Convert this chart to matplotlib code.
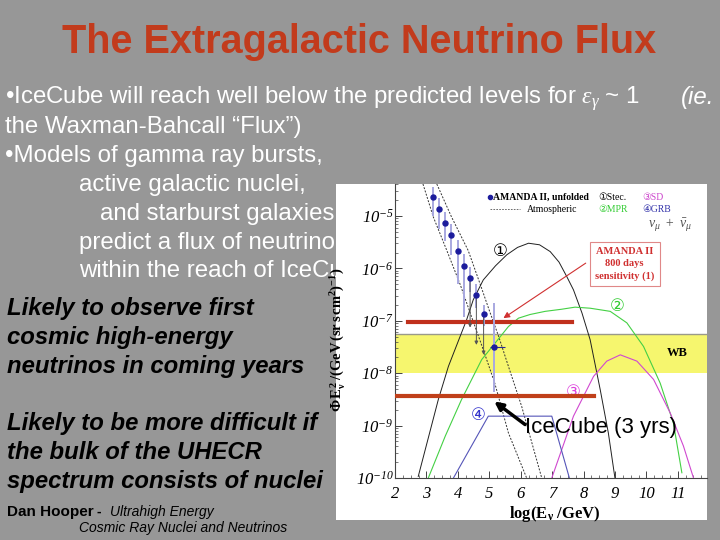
import numpy as np
import matplotlib
matplotlib.use("Agg")
import matplotlib.pyplot as plt
from matplotlib.ticker import FixedLocator, FuncFormatter, MultipleLocator, LogLocator, NullFormatter
from matplotlib.patches import Rectangle

plt.rcParams['mathtext.fontset'] = 'custom'
plt.rcParams['mathtext.rm'] = 'Liberation Serif:italic'
plt.rcParams['mathtext.it'] = 'Liberation Serif:italic'
plt.rcParams['mathtext.bf'] = 'Liberation Serif:bold'

# ---------------- data (log10 of flux) ----------------
stecker_x = [2.74, 3.38, 3.70, 4.28, 4.49, 4.81, 5.20, 5.56, 5.90, 6.25, 6.60, 6.94, 7.22, 7.47, 7.68, 7.95, 8.21, 8.53, 8.79, 9.00]
stecker_y = [-9.97, -8.50, -7.87, -6.98, -6.60, -6.22, -5.95, -5.74, -5.60, -5.52, -5.55, -5.68, -5.88, -6.16, -6.41, -6.85, -7.36, -8.31, -9.14, -10.0]

mpr_x = [3.06, 3.60, 4.12, 4.76, 5.18, 5.61, 5.93, 6.30, 6.78, 7.30, 7.73, 8.21, 8.85, 9.38, 9.91, 10.44, 10.86, 11.13]
mpr_y = [-10.0, -9.20, -8.50, -7.74, -7.43, -7.11, -6.95, -6.88, -6.82, -6.78, -6.74, -6.76, -6.82, -7.04, -7.49, -8.19, -8.95, -9.90]

sd_x = [6.99, 7.68, 8.32, 8.74, 9.17, 9.70, 10.23, 10.76, 11.18, 11.50]
sd_y = [-10.0, -8.82, -8.06, -7.77, -7.65, -7.77, -8.12, -8.76, -9.39, -10.0]

grb_x = [3.86, 4.97, 6.99, 7.55]
grb_y = [-10.0, -8.82, -8.82, -10.0]

atm_lo_x = [2.89, 3.22, 3.65, 4.07, 4.44, 4.82, 5.18, 5.61, 6.19]
atm_lo_y = [-4.39, -5.02, -5.66, -6.30, -6.93, -7.57, -8.20, -9.14, -10.0]
atm_hi_x = [3.33, 3.80, 4.33, 4.71, 5.00, 5.30, 5.61, 6.03, 6.67]
atm_hi_y = [-4.39, -5.02, -5.66, -6.30, -6.80, -7.30, -7.87, -8.63, -10.0]

amanda_x = [3.20, 3.40, 3.60, 3.79, 4.00, 4.20, 4.39, 4.59, 4.82, 5.15]
amanda_y = [-4.64, -4.86, -5.13, -5.37, -5.67, -5.95, -6.19, -6.50, -6.87, -7.50]
amanda_hi = [-4.45, -4.65, -4.92, -5.15, -5.45, -5.72, -5.98, -6.30, -6.70, -6.66]
amanda_lo = [-5.00, -5.25, -5.47, -5.75, -6.30, -6.92, -6.45, -6.75, -7.10, -8.35]
limit_idx = [6, 7, 8]
limit_to = [-7.13, -7.46, -7.65]

amanda_sens = -7.02       # AMANDA II 800 days sensitivity
amanda_sens_x = [2.42, 7.63]
icecube_sens = -8.43      # IceCube 3 yrs
icecube_sens_x = [2.0, 8.32]
wb_band = [-8.0, -7.25]   # Waxman-Bahcall band

xticks = [2, 3, 4, 5, 6, 7, 8, 9, 10, 11]
yticks = [-10, -9, -8, -7, -6, -5]

title = "The Extragalactic Neutrino Flux"
# the last two lines run under the picture panel in the slide; only the visible part is kept
white_lines = [
    (5, 104, "\u2022IceCube will reach well below the predicted levels for $\\varepsilon_{\\gamma}$ ~ 1"),
    (5, 133, "the Waxman-Bahcall \u201cFlux\u201d)"),
    (5, 162, "\u2022Models of gamma ray bursts,"),
    (79, 191, "active galactic nuclei,"),
    (100, 220, "and starburst galaxies"),
    (79, 249, "predict a flux of neutrino"),
    (79, 277, "within the reach of IceCu"),
]
black_lines = [
    (7, 315, "Likely to observe first"),
    (7, 344, "cosmic high-energy"),
    (7, 373, "neutrinos in coming years"),
    (7, 430, "Likely to be more difficult if"),
    (7, 459, "the bulk of the UHECR"),
    (7, 488, "spectrum consists of nuclei"),
]

# ---------------- figure ----------------
W, H = 720, 540
fig = plt.figure(figsize=(7.2, 5.4), dpi=100)
fig.patch.set_facecolor('#979797')

def fx(px):
    return px / W

def fy(py):
    return 1 - py / H

clip_rect = Rectangle((0, 0), fx(336), 1, transform=fig.transFigure, visible=False)
fig.add_artist(clip_rect)

sans = 'Liberation Sans'
fig.text(fx(359), fy(53), title, ha='center', va='baseline', fontsize=28.5,
         fontweight='bold', color='#c23b1c', family=sans, zorder=3)
for x, y, s in white_lines:
    t = fig.text(fx(x), fy(y), s, ha='left', va='baseline', fontsize=17.3,
                 color='white', family=sans, zorder=3)
    if y > 184:
        t.set_clip_path(clip_rect)
fig.text(fx(681), fy(104), "(ie.", ha='left', va='baseline', fontsize=17.3,
         color='white', family=sans, style='italic', zorder=3)
for x, y, s in black_lines:
    fig.text(fx(x), fy(y), s, ha='left', va='baseline', fontsize=17.2,
             color='black', family=sans, style='italic', fontweight='bold', zorder=3)
fig.text(fx(7), fy(516), "Dan Hooper", ha='left', va='baseline', fontsize=11,
         fontweight='bold', color='black', family=sans, zorder=3)
fig.text(fx(97), fy(516), "- ", ha='left', va='baseline', fontsize=10,
         fontweight='bold', color='black', family=sans, zorder=3)
fig.text(fx(110), fy(516), "Ultrahigh Energy", ha='left', va='baseline', fontsize=10,
         style='italic', color='black', family=sans, zorder=3)
fig.text(fx(79), fy(532), "Cosmic Ray Nuclei and Neutrinos", ha='left', va='baseline',
         fontsize=10, style='italic', color='black', family=sans, zorder=3)

# white "image" panel
ax_img = fig.add_axes([fx(336), fy(520), fx(707 - 336), (520 - 184) / H], zorder=5)
ax_img.set_facecolor('white')
ax_img.set_xticks([]); ax_img.set_yticks([])
for s in ax_img.spines.values():
    s.set_visible(False)

ax = fig.add_axes([fx(395), fy(478), fx(707 - 395), (478 - 184) / H], zorder=6)
ax.patch.set_alpha(0)
ax.set_yscale('log')
ax.set_xlim(2, 11.93)
ax.set_ylim(1e-10, 10 ** -4.39)

def L(v):
    return [10 ** t for t in v]

ax.axhspan(10 ** wb_band[0], 10 ** wb_band[1], color='#f6f66e', lw=0, zorder=1)
ax.axhline(10 ** wb_band[1], color='#9a9a8a', lw=1.0, zorder=1.5)

ax.plot(atm_lo_x, L(atm_lo_y), color='#333333', lw=0.7, ls=(0, (2, 1.5)), zorder=2)
ax.plot(atm_hi_x, L(atm_hi_y), color='#333333', lw=0.7, ls=(0, (2, 1.5)), zorder=2)

ax.plot(stecker_x, L(stecker_y), color='#202020', lw=0.7, zorder=3)
ax.plot(mpr_x, L(mpr_y), color='#44d044', lw=0.8, zorder=3)
ax.plot(sd_x, L(sd_y), color='#d048d0', lw=0.8, zorder=3)
ax.plot(grb_x, L(grb_y), color='#5555b8', lw=0.8, zorder=3)

ax.plot(amanda_sens_x, [10 ** amanda_sens] * 2, color='#c0301c', lw=3.0, zorder=4)
ax.plot(icecube_sens_x, [10 ** icecube_sens] * 2, color='#c0401a', lw=3.0, zorder=4)

# AMANDA unfolded points
ay = np.array(L(amanda_y))
lo = ay - np.array(L(amanda_lo))
hi = np.array(L(amanda_hi)) - ay
ax.errorbar(amanda_x, ay, yerr=[lo, hi], fmt='none', ecolor='#a8a8e0', elinewidth=1.4, zorder=4)
ax.errorbar([amanda_x[-1]], [ay[-1]], xerr=[[0.12], [0.35]], fmt='none', ecolor='#2a2a90', elinewidth=0.8, zorder=5)
ax.plot(amanda_x, ay, 'o', color='#1c1c9c', ms=3.6, zorder=6)
for i, t in zip(limit_idx, limit_to):
    ax.annotate('', xy=(amanda_x[i], 10 ** t), xytext=(amanda_x[i], ay[i]),
                arrowprops=dict(arrowstyle='-|>', color='#555555', lw=0.7,
                                mutation_scale=5, shrinkA=0, shrinkB=0), zorder=5)

# ticks
ax.xaxis.set_major_locator(FixedLocator(xticks))
ax.xaxis.set_minor_locator(MultipleLocator(0.25))
ax.yaxis.set_major_locator(FixedLocator([10.0 ** t for t in yticks]))
ax.yaxis.set_minor_locator(LogLocator(base=10, subs=np.arange(2, 10)))
ax.yaxis.set_minor_formatter(NullFormatter())
ax.yaxis.set_major_formatter(FuncFormatter(lambda v, p: r'$10^{%d}$' % round(np.log10(v))))
ax.xaxis.set_major_formatter(FuncFormatter(lambda v, p: '%d' % v))
ax.tick_params(axis='both', which='both', direction='in', color='#444444')
ax.tick_params(axis='both', which='major', length=5, width=0.7, labelsize=12)
ax.tick_params(axis='both', which='minor', length=2.5, width=0.5)
ax.tick_params(axis='y', pad=1)
ax.tick_params(axis='x', pad=6)
for lab in ax.get_xticklabels():
    lab.set_family('Liberation Serif'); lab.set_style('italic')
ax.spines['top'].set_visible(False)
ax.spines['right'].set_visible(False)
ax.spines['left'].set_color('#444444')
ax.spines['bottom'].set_color('#444444')

ax.set_ylabel(r'$\mathbf{\Phi\,E_{\nu}^{\,2}\,/(GeV\,(sr\,s\,cm^{2})^{-1})}$', fontsize=10.5)
ax.yaxis.set_label_coords(-0.155, 0.47)
ax.set_xlabel(r'$\mathbf{log(E_{\nu}\ /GeV)}$', fontsize=12)
ax.xaxis.set_label_coords(0.513, -0.09)

serif = ['Liberation Serif', 'DejaVu Sans']
# legend (drawn as in the figure)
ax.plot([5.03], [10 ** -4.64], 'o', color='#1c1c9c', ms=3, zorder=6)
ax.text(5.13, 10 ** -4.64, 'AMANDA II, unfolded', fontsize=7, fontweight='bold',
        family=serif, va='center', ha='left')
ax.plot([5.03, 5.98], [10 ** -4.87] * 2, color='#555555', lw=0.6, ls=(0, (2, 1.5)))
ax.text(6.19, 10 ** -4.87, 'Atmospheric', fontsize=7, family=serif, va='center', ha='left')
ax.text(8.47, 10 ** -4.64, '\u2460Stec.', fontsize=7, family=serif, va='center', ha='left', color='black')
ax.text(8.47, 10 ** -4.87, '\u2461MPR', fontsize=7, family=serif, va='center', ha='left', color='#33cc33')
ax.text(9.88, 10 ** -4.64, '\u2462SD', fontsize=7, family=serif, va='center', ha='left', color='#cc44cc')
ax.text(9.88, 10 ** -4.87, '\u2463GRB', fontsize=7, family=serif, va='center', ha='left', color='#3333aa')
ax.text(10.75, 10 ** -5.18, r'$\nu_{\mu}\ +\ \bar{\nu}_{\mu}$', fontsize=10, ha='center', va='center', color='#555555')

# curve labels
ax.text(5.34, 10 ** -5.68, '\u2460', fontsize=12, family=serif, ha='center', va='center', color='black')
ax.text(9.06, 10 ** -6.73, '\u2461', fontsize=12, family=serif, ha='center', va='center', color='#33cc33')
ax.text(7.68, 10 ** -8.38, '\u2462', fontsize=12, family=serif, ha='center', va='center', color='#dd44dd')
ax.text(4.65, 10 ** -8.82, '\u2463', fontsize=12, family=serif, ha='center', va='center', color='#3333cc')

ax.text(10.97, 10 ** -7.61, 'WB', fontsize=9, fontweight='bold', family=serif, ha='center', va='center')

# AMANDA sensitivity box
ax.text(9.31, 10 ** -5.91, 'AMANDA II\n800 days\nsensitivity (1)', fontsize=7.5, fontweight='bold',
        family=serif, color='#d03030', ha='center', va='center', linespacing=1.45,
        bbox=dict(boxstyle='square,pad=0.5', fc='white', ec='#e08888', lw=0.8), zorder=7)
ax.annotate('', xy=(5.45, 10 ** -6.95), xytext=(8.07, 10 ** -5.9),
            arrowprops=dict(arrowstyle='-|>', color='#d03030', lw=0.8, mutation_scale=9,
                            shrinkA=0, shrinkB=0), zorder=7)

# IceCube annotation
ax.text(6.14, 10 ** -9.04, 'IceCube (3 yrs)', fontsize=16, family=sans, ha='left', va='center', zorder=8)
ax.annotate('', xy=(5.16, 10 ** -8.54), xytext=(6.14, 10 ** -8.98),
            arrowprops=dict(arrowstyle='-|>', color='black', lw=2.5, mutation_scale=12,
                            shrinkA=0, shrinkB=0), zorder=8)

fig.savefig('out.png', dpi=100, facecolor=fig.get_facecolor())
